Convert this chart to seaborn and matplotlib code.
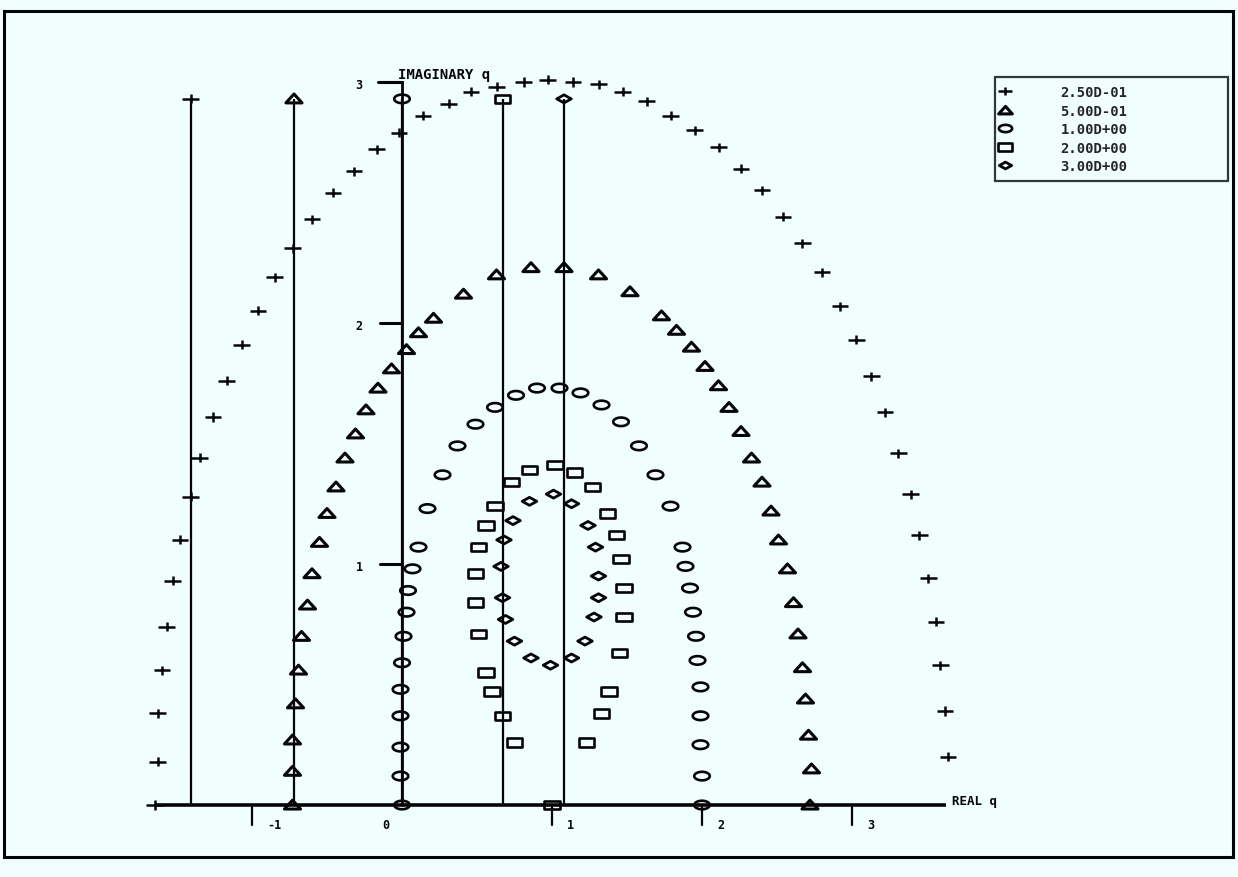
import numpy as np
import matplotlib
matplotlib.use("Agg")
import matplotlib.pyplot as plt
from matplotlib.path import Path
from matplotlib.lines import Line2D
from matplotlib.patches import Rectangle
import seaborn as sns

# ---- data -------------------------------------------------------------
series_labels = ["2.50D-01", "5.00D-01", "1.00D+00", "2.00D+00", "3.00D+00"]

plus_re = [-1.65, -1.63, -1.63, -1.60, -1.57, -1.53, -1.48, -1.41, -1.35, -1.26,
           -1.17, -1.07, -0.96, -0.85, -0.73, -0.60, -0.46, -0.32, -0.17, -0.02,
           0.14, 0.31, 0.46, 0.63, 0.81, 0.97, 1.14, 1.31, 1.47, 1.63,
           1.79, 1.95, 2.11, 2.26, 2.40, 2.54, 2.67, 2.80, 2.92, 3.03,
           3.13, 3.22, 3.31, 3.39, 3.45, 3.51, 3.56, 3.59, 3.62, 3.64]
plus_im = [0.00, 0.18, 0.38, 0.56, 0.74, 0.93, 1.10, 1.28, 1.44, 1.61,
           1.76, 1.91, 2.05, 2.19, 2.31, 2.43, 2.54, 2.63, 2.72, 2.79,
           2.86, 2.91, 2.96, 2.98, 3.00, 3.01, 3.00, 2.99, 2.96, 2.92,
           2.86, 2.80, 2.73, 2.64, 2.55, 2.44, 2.33, 2.21, 2.07, 1.93,
           1.78, 1.63, 1.46, 1.29, 1.12, 0.94, 0.76, 0.58, 0.39, 0.20]

tri_re = [-0.73, -0.73, -0.73, -0.71, -0.69, -0.67, -0.63, -0.60, -0.55, -0.50,
          -0.44, -0.38, -0.31, -0.24, -0.16, -0.07, 0.03, 0.11, 0.21, 0.41,
          0.63, 0.86, 1.08, 1.31, 1.52, 1.73, 1.83, 1.93, 2.02, 2.11,
          2.18, 2.26, 2.33, 2.40, 2.46, 2.51, 2.57, 2.61, 2.64, 2.67,
          2.69, 2.71, 2.73, 2.72]
tri_im = [0.00, 0.14, 0.27, 0.42, 0.56, 0.70, 0.83, 0.96, 1.09, 1.21,
          1.32, 1.44, 1.54, 1.64, 1.73, 1.81, 1.89, 1.96, 2.02, 2.12,
          2.20, 2.23, 2.23, 2.20, 2.13, 2.03, 1.97, 1.90, 1.82, 1.74,
          1.65, 1.55, 1.44, 1.34, 1.22, 1.10, 0.98, 0.84, 0.71, 0.57,
          0.44, 0.29, 0.15, 0.00]

circ_re = [0.00, -0.01, -0.01, -0.01, -0.01, 0.00, 0.01, 0.03, 0.04, 0.07,
           0.11, 0.17, 0.27, 0.37, 0.49, 0.62, 0.76, 0.90, 1.05, 1.19,
           1.33, 1.46, 1.58, 1.69, 1.79, 1.87, 1.89, 1.92, 1.94, 1.96,
           1.97, 1.99, 1.99, 1.99, 2.00, 2.00]
circ_im = [0.00, 0.12, 0.24, 0.37, 0.48, 0.59, 0.70, 0.80, 0.89, 0.98,
           1.07, 1.23, 1.37, 1.49, 1.58, 1.65, 1.70, 1.73, 1.73, 1.71,
           1.66, 1.59, 1.49, 1.37, 1.24, 1.07, 0.99, 0.90, 0.80, 0.70,
           0.60, 0.49, 0.37, 0.25, 0.12, 0.00]

sq_re = [1.00, 0.75, 0.67, 0.60, 0.56, 0.51, 0.49, 0.49, 0.51, 0.56,
         0.62, 0.73, 0.85, 1.02, 1.15, 1.27, 1.37, 1.43, 1.46, 1.48,
         1.48, 1.45, 1.38, 1.33, 1.23]
sq_im = [0.00, 0.26, 0.37, 0.47, 0.55, 0.71, 0.84, 0.96, 1.07, 1.16,
         1.24, 1.34, 1.39, 1.41, 1.38, 1.32, 1.21, 1.12, 1.02, 0.90,
         0.78, 0.63, 0.47, 0.38, 0.26]

dia_re = [1.01, 0.85, 0.74, 0.68, 0.66, 0.67, 0.69, 0.75, 0.86, 0.99,
          1.13, 1.22, 1.28, 1.31, 1.31, 1.29, 1.24, 1.13]
dia_im = [1.29, 1.26, 1.18, 1.10, 0.99, 0.86, 0.77, 0.68, 0.61, 0.58,
          0.61, 0.68, 0.78, 0.86, 0.95, 1.07, 1.16, 1.25]

# vertical reference lines, one per series, topped by the series marker
line_re = [-1.41, -0.72, 0.00, 0.67, 1.08]
line_top = 2.93

x_ticks = [-1, 1, 2, 3]
x_tick_labels = ["-1", "1", "2", "3"]
y_ticks = [1, 2, 3]
y_tick_labels = ["1", "2", "3"]
x_axis_span = [-1.65, 3.63]
y_axis_top = 3.0

# ---- marker shapes (plotter style, wider than tall) --------------------
def closed(verts):
    verts = list(verts) + [verts[0]]
    codes = [Path.MOVETO] + [Path.LINETO] * (len(verts) - 2) + [Path.CLOSEPOLY]
    return Path(verts, codes)

plus_m = Path([(-1, 0), (1, 0), (0, -0.55), (0, 0.55)],
              [Path.MOVETO, Path.LINETO, Path.MOVETO, Path.LINETO])
tri_m = closed([(-1, -0.5), (1, -0.5), (0, 0.6)])
_t = np.linspace(0, 2 * np.pi, 41)[:-1]
ell_m = closed(list(zip(np.cos(_t), 0.55 * np.sin(_t))))
sq_m = closed([(-1, -0.55), (1, -0.55), (1, 0.55), (-1, 0.55)])
dia_m = closed([(-1, 0), (0, 0.55), (1, 0), (0, -0.55)])

series = [
    (plus_re, plus_im, plus_m, 140, 1.8),
    (tri_re, tri_im, tri_m, 135, 2.2),
    (circ_re, circ_im, ell_m, 125, 1.9),
    (sq_re, sq_im, sq_m, 125, 1.9),
    (dia_re, dia_im, dia_m, 110, 2.0),
]

# ---- figure ------------------------------------------------------------
sns.set_style("white")
bg = "#f0fefe"
plt.rcParams["font.family"] = ["DejaVu Sans Mono", "DejaVu Sans"]

W, H, DPI = 1238, 878, 100
fig = plt.figure(figsize=(W / DPI, H / DPI), dpi=DPI, facecolor=bg)
ax = fig.add_axes([0, 0, 1, 1])
ax.set_facecolor(bg)

ink = "#050505"

# axes drawn as plain lines through the origin
ax.plot(x_axis_span, [0, 0], color=ink, lw=2.6, zorder=2, solid_capstyle="butt")
ax.plot([0, 0], [0, y_axis_top], color=ink, lw=2.0, zorder=2)
ax.plot([0, -0.16], [y_axis_top, y_axis_top], color=ink, lw=2.2, zorder=2)

for xt, lab in zip(x_ticks, x_tick_labels):
    ax.plot([xt, xt], [0, -0.085], color=ink, lw=1.6, zorder=2)
    ax.annotate(lab, (xt, 0), xytext=(11, -14), textcoords="offset points",
                ha="left", va="center", fontsize=8.5, fontweight="bold", color=ink)
ax.annotate("0", (0, 0), xytext=(-12, -14), textcoords="offset points",
            ha="center", va="center", fontsize=8.5, fontweight="bold", color=ink)

for yt, lab in zip(y_ticks, y_tick_labels):
    ax.plot([-0.15, 0], [yt, yt], color=ink, lw=2.2, zorder=2)
    ax.annotate(lab, (0, yt), xytext=(-31, -2), textcoords="offset points",
                ha="center", va="center", fontsize=8.5, fontweight="bold", color=ink)

ax.annotate("IMAGINARY q", (0, y_axis_top), xytext=(-3, 6), textcoords="offset points",
            ha="left", va="center", fontsize=10, fontweight="bold", color=ink)
ax.annotate("REAL q", (x_axis_span[1], 0), xytext=(4, 3), textcoords="offset points",
            ha="left", va="center", fontsize=9, fontweight="bold", color=ink)

# vertical lines for each series
ax.vlines(line_re, 0, line_top, colors=ink, lw=1.6, zorder=2)

handles = []
for (xs, ys, m, s, lw), lx, lab in zip(series, line_re, series_labels):
    sns.scatterplot(x=xs, y=ys, marker=m, s=s, color=ink, facecolor="none",
                    edgecolor=ink, linewidth=lw, ax=ax, legend=False, zorder=3)
    sns.scatterplot(x=[lx], y=[line_top], marker=m, s=s, color=ink, facecolor="none",
                    edgecolor=ink, linewidth=lw, ax=ax, legend=False, zorder=3)
    handles.append(Line2D([], [], linestyle="none", marker=m, markersize=np.sqrt(s) * 0.85,
                          markerfacecolor="none", markeredgecolor=ink,
                          markeredgewidth=lw, label=lab))

# pixel-calibrated data window
ax.set_xlim(-402 / 150, (W - 402) / 150)
ax.set_ylim((806 - H) / 241, 806 / 241)
ax.axis("off")

leg = fig.legend(handles=handles, loc="upper left",
                 bbox_to_anchor=(995 / W, 1 - 78 / H - 0.01, 233 / W, 0.01),
                 bbox_transform=fig.transFigure, mode="expand",
                 frameon=True, fancybox=False, edgecolor=ink, facecolor=bg,
                 prop={"family": "DejaVu Sans Mono", "weight": "bold", "size": 10},
                 handlelength=0.3, handletextpad=3.8, borderpad=0.6,
                 labelspacing=0.32, borderaxespad=0)
leg.get_frame().set_linewidth(1.6)

# page frame
fig.add_artist(Rectangle((4 / W, 1 - 858 / H), (1233 - 4) / W, (858 - 12) / H,
                         transform=fig.transFigure, fill=False, lw=2.2,
                         edgecolor=ink))

fig.savefig("out.png", dpi=DPI, facecolor=bg)
